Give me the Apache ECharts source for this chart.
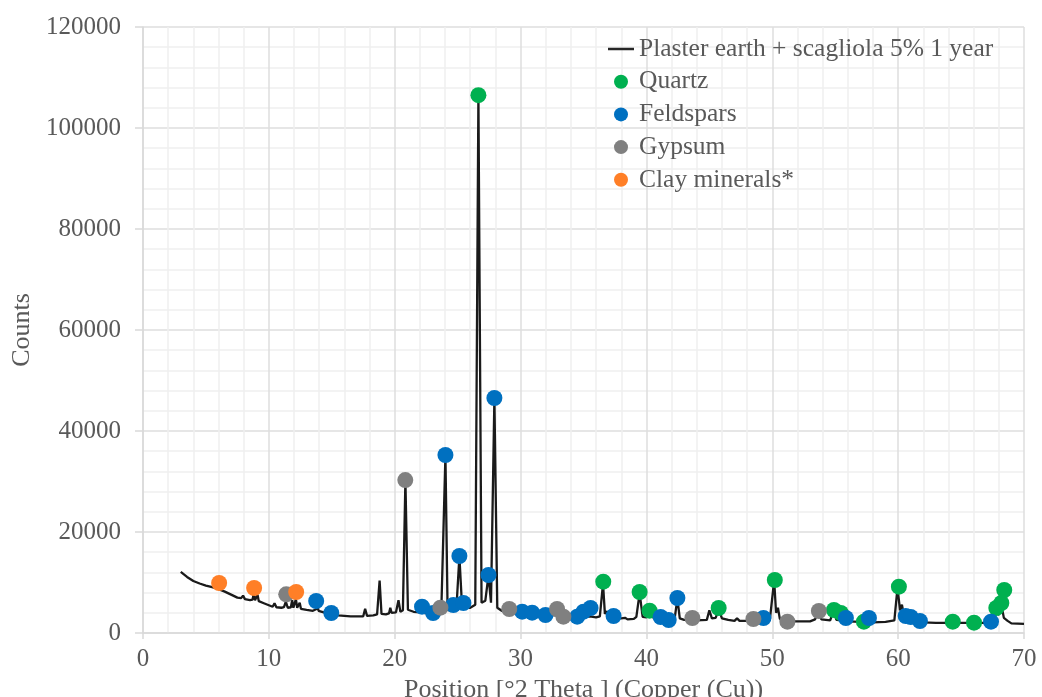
<!DOCTYPE html>
<html>
<head>
<meta charset="utf-8">
<script src="https://cdn.jsdelivr.net/npm/echarts@6/dist/echarts.min.js"></script>
<style>html,body{margin:0;padding:0;background:#fff}#c{width:1042px;height:697px}</style>
</head>
<body>
<div id="c"></div>
<script>
// Diffractogram trace: [2theta, counts]
var patternData = [[3.0,12100],[3.5,11100],[4.0,10300],[4.5,9800],[5.0,9400],[5.5,9100],[6.0,8700],[6.5,8200],[7.0,7600],[7.5,7000],[7.8,6900],[7.95,7400],[8.1,6700],[8.5,6500],[8.7,6600],[8.8,7800],[8.9,6500],[9.0,6400],[9.1,7600],[9.2,6300],[9.6,5900],[10.0,5500],[10.3,5200],[10.45,5900],[10.6,5100],[11.0,5000],[11.2,5100],[11.35,6200],[11.5,5000],[11.75,5100],[11.85,6500],[11.95,5000],[12.05,5000],[12.15,6700],[12.25,5000],[12.35,4900],[12.45,6000],[12.55,4800],[13.0,4600],[13.5,4400],[13.75,4700],[13.85,5400],[13.95,4400],[14.5,4000],[15.0,3700],[15.5,3500],[16.0,3400],[16.5,3300],[17.0,3300],[17.5,3300],[17.65,4800],[17.8,3400],[18.3,3500],[18.6,3700],[18.8,10400],[18.95,3800],[19.3,3700],[19.55,3900],[19.65,5000],[19.75,4000],[20.1,4100],[20.3,6500],[20.45,4200],[20.65,4500],[20.85,30300],[21.05,4600],[21.5,4200],[22.0,4100],[22.1,4700],[22.3,4000],[23.0,3700],[23.4,4000],[23.55,5000],[23.7,4200],[23.85,4400],[24.03,35200],[24.2,4600],[24.5,4400],[24.7,5200],[24.9,4800],[25.14,15200],[25.35,5200],[25.6,5000],[26.0,5000],[26.4,5600],[26.65,106500],[26.9,6000],[27.2,6400],[27.45,11400],[27.65,6000],[27.92,46500],[28.15,5000],[28.5,4400],[29.0,4200],[29.3,4300],[29.6,4000],[30.0,3900],[31.0,3800],[32.0,3600],[33.0,3500],[34.0,3300],[35.0,3200],[35.5,3300],[36.0,3100],[36.3,3300],[36.55,9800],[36.7,3800],[36.85,4300],[37.0,3300],[37.5,3000],[38.0,2900],[38.3,3000],[38.5,2700],[39.0,2800],[39.2,3200],[39.46,7900],[39.7,3200],[40.0,3100],[40.3,4300],[40.5,3100],[41.0,2900],[42.0,2800],[42.25,3000],[42.46,6800],[42.65,2900],[43.0,2600],[44.0,2500],[44.8,2600],[45.0,4500],[45.2,2900],[45.5,3000],[45.75,4700],[46.0,2900],[46.5,2600],[47.0,2400],[47.2,2900],[47.4,2400],[48.0,2400],[49.0,2300],[49.8,2500],[50.15,10400],[50.3,4000],[50.45,5000],[50.6,2800],[51.0,2300],[52.0,2300],[53.0,2300],[53.4,2700],[53.65,4000],[53.9,2700],[54.6,2500],[54.85,4300],[55.1,2600],[55.5,2500],[56.0,2300],[57.0,2200],[58.0,2100],[59.0,2200],[59.7,2500],[59.95,9000],[60.15,4500],[60.3,5600],[60.5,3000],[61.0,2300],[62.0,2100],[63.0,2000],[64.0,2000],[65.0,2000],[66.0,2000],[67.0,2000],[67.5,2200],[67.75,4200],[68.0,3600],[68.2,5600],[68.4,3000],[68.7,2400],[69.0,1900],[70.0,1800]];

var quartzData = [[26.65,106500],[36.57,10160],[39.46,8120],[40.25,4420],[45.74,4950],[50.2,10490],[54.9,4550],[55.45,3960],[57.28,2240],[60.06,9170],[64.34,2240],[66.03,2040],[67.8,4950],[68.2,5940],[68.43,8510]];

var feldsparsData = [[13.76,6340],[14.96,3960],[22.17,5210],[23.05,3960],[24.66,5540],[25.46,5940],[25.14,15250],[24.03,35250],[27.45,11480],[27.92,46530],[30.13,4220],[30.92,4020],[31.98,3560],[34.5,3230],[35.0,4220],[35.56,4950],[37.39,3370],[41.13,3170],[41.77,2570],[42.46,6930],[49.3,2970],[55.85,2970],[57.68,2970],[60.6,3370],[61.0,3170],[61.73,2380],[67.38,2240]];

var gypsumData = [[11.38,7660],[20.84,30290],[23.63,5010],[29.1,4750],[32.9,4750],[33.4,3230],[43.65,2970],[48.5,2770],[51.2,2240],[53.7,4360]];

var clayData = [[6.05,9900],[8.83,8910],[12.17,8120]];

var seriesNames = ['Plaster earth + scagliola 5% 1 year','Quartz','Feldspars','Gypsum','Clay minerals*'];
var xAxisTitle = 'Position [°2 Theta ] (Copper (Cu))';
var yAxisTitle = 'Counts';

var font = '"Liberation Serif", "Times New Roman", serif';
var chart = echarts.init(document.getElementById('c'), null, {renderer:'canvas'});
function sc(name, data, color){
  return {name:name, type:'scatter', data:data, symbol:'circle', symbolSize:16,
    itemStyle:{color:color, opacity:1}, z:5, animation:false};
}
chart.setOption({
  animation:false,
  backgroundColor:'#ffffff',
  grid:{left:143, right:18, top:27, bottom:64, containLabel:false, outerBoundsMode:'none'},
  legend:{
    orient:'vertical', left:603, top:31, itemGap:6.7, itemWidth:26, itemHeight:14,
    textStyle:{fontFamily:font, fontSize:25.5, color:'#595959'},
    data:[
      {name:seriesNames[0], icon:'path://M0,0 L26,0 L26,2.5 L0,2.5 Z', itemStyle:{color:'#262626'}},
      {name:seriesNames[1], icon:'circle'},
      {name:seriesNames[2], icon:'circle'},
      {name:seriesNames[3], icon:'circle'},
      {name:seriesNames[4], icon:'circle'}
    ]
  },
  xAxis:{
    type:'value', min:0, max:70, interval:10,
    name:xAxisTitle, nameLocation:'middle', nameGap:36,
    nameTextStyle:{fontFamily:font, fontSize:26, color:'#595959'},
    axisLine:{show:true, lineStyle:{color:'#d9d9d9', width:1.5}},
    axisTick:{show:true, length:6, lineStyle:{color:'#d9d9d9', width:1.5}},
    axisLabel:{fontFamily:font, fontSize:25, color:'#595959', margin:14},
    splitLine:{show:true, lineStyle:{color:'#dedede', width:1.5}},
    minorTick:{show:false, splitNumber:5},
    minorSplitLine:{show:true, lineStyle:{color:'#efefef', width:1.5}}
  },
  yAxis:{
    type:'value', min:0, max:120000, interval:20000,
    name:yAxisTitle, nameLocation:'middle', nameGap:105, nameRotate:90,
    nameTextStyle:{fontFamily:font, fontSize:26, color:'#595959'},
    axisLine:{show:true, lineStyle:{color:'#d9d9d9', width:1.5}},
    axisTick:{show:true, length:8, lineStyle:{color:'#d9d9d9', width:1.5}},
    axisLabel:{fontFamily:font, fontSize:25, color:'#595959', margin:22,
      formatter:function(v){return String(v);}},
    splitLine:{show:true, lineStyle:{color:'#dedede', width:1.5}},
    minorTick:{show:false, splitNumber:5},
    minorSplitLine:{show:true, lineStyle:{color:'#efefef', width:1.5}}
  },
  series:[
    {name:seriesNames[0], type:'line', data:patternData, symbol:'none', showSymbol:false,
     sampling:null, smooth:false, lineStyle:{color:'#1a1a1a', width:2.3}, itemStyle:{color:'#1a1a1a'}, z:3},
    sc(seriesNames[1], quartzData, '#00b050'),
    sc(seriesNames[2], feldsparsData, '#0070c0'),
    sc(seriesNames[3], gypsumData, '#808080'),
    sc(seriesNames[4], clayData, '#ff7f27')
  ]
});
</script>
</body>
</html>
